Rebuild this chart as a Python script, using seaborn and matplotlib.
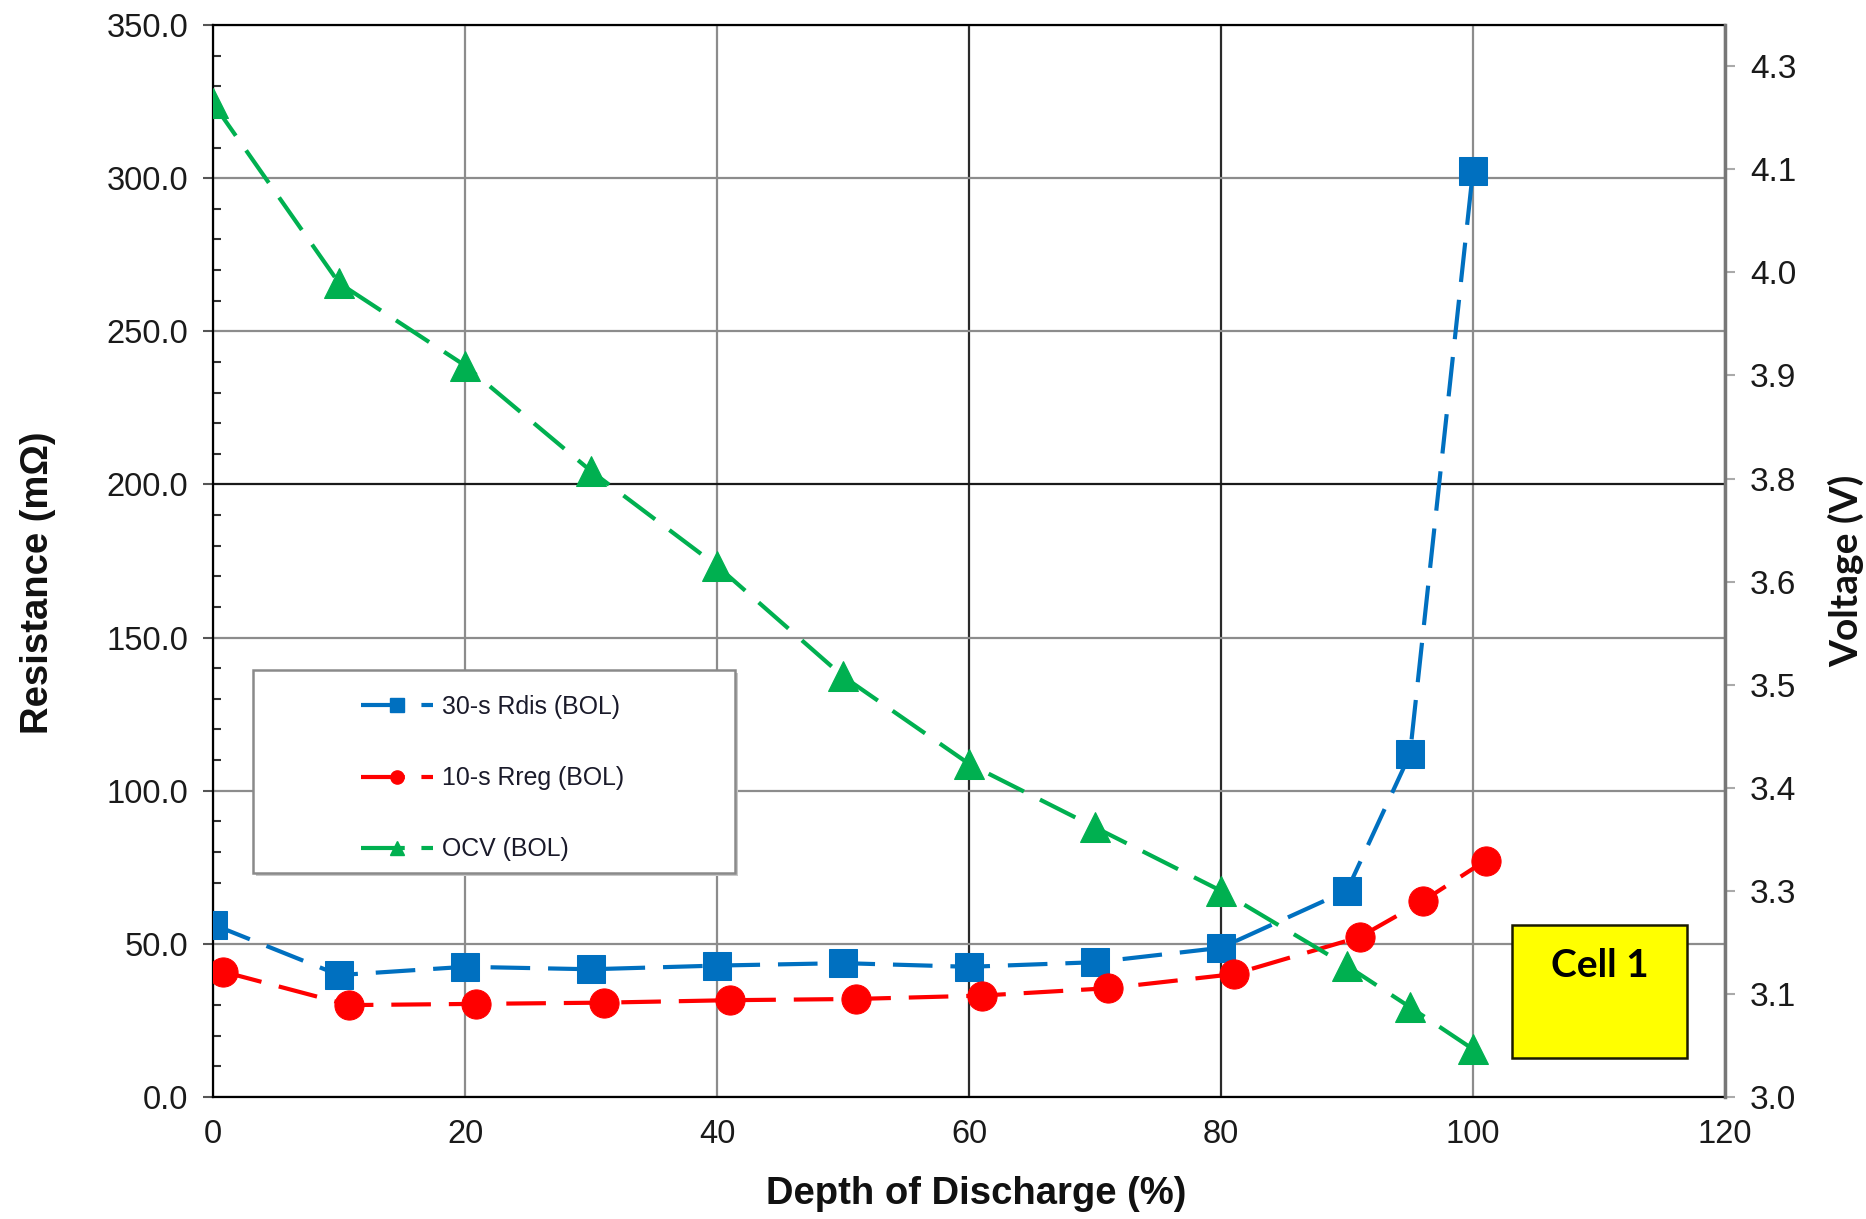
import matplotlib
matplotlib.use("Agg")
import matplotlib.pyplot as plt
import seaborn as sns
import numpy as np
from matplotlib.lines import Line2D
from matplotlib.patches import Rectangle
from matplotlib.ticker import MultipleLocator, FormatStrFormatter

# data
dod_rdis = [0, 10, 20, 30, 40, 50, 60, 70, 80, 90, 95, 100]
rdis_30s = [56.3, 39.8, 42.5, 41.7, 42.9, 43.7, 42.5, 44.0, 48.7, 67.4, 111.9, 302.4]

dod_rreg = [0.8, 10.8, 20.9, 31, 41, 51, 61, 71, 81, 91, 96, 101]
rreg_10s = [40.9, 30.0, 30.4, 30.8, 31.6, 32.0, 33.1, 35.5, 40.1, 52.2, 63.9, 77.2]

dod_ocv = [0, 10, 20, 30, 40, 50, 60, 70, 80, 90, 95, 100]
ocv = [4.205, 3.987, 3.887, 3.759, 3.644, 3.510, 3.404, 3.327, 3.250, 3.159, 3.109, 3.058]

labels = ["30-s Rdis (BOL)", "10-s Rreg (BOL)", "OCV (BOL)"]
colors = ["#0070C0", "#FF0000", "#00B050"]

volt_ticks = [3.0, 3.125, 3.25, 3.375, 3.5, 3.625, 3.75, 3.875, 4.0, 4.125, 4.25]
volt_labels = ["3.0", "3.1", "3.3", "3.4", "3.5", "3.6", "3.8", "3.9", "4.0", "4.1", "4.3"]

sns.set_style("white")
plt.rcParams["font.family"] = ["Liberation Sans", "DejaVu Sans"]

fig = plt.figure(figsize=(18.66, 12.19), dpi=100)
ax = fig.add_axes([0.1142, 0.1001, 0.8102, 0.8794])
ax2 = ax.twinx()

dash = (0, (9.5, 4.3))
lw = 3.0

sns.lineplot(x=dod_rdis, y=rdis_30s, ax=ax, color=colors[0], marker="s", markersize=20,
             markeredgecolor=colors[0], linewidth=lw, linestyle=dash, zorder=4)
sns.lineplot(x=dod_rreg, y=rreg_10s, ax=ax, color=colors[1], marker="o", markersize=21,
             markeredgecolor=colors[1], linewidth=lw, linestyle=dash, zorder=4)
sns.lineplot(x=dod_ocv, y=ocv, ax=ax2, color=colors[2], marker="^", markersize=22,
             markeredgecolor=colors[2], linewidth=lw, linestyle=dash, zorder=4)

ax.set_xlim(0, 120)
ax.set_ylim(0, 350)
ax2.set_ylim(3.0, 4.3)

ax.xaxis.set_major_locator(MultipleLocator(20))
ax.xaxis.set_minor_locator(MultipleLocator(4))
ax.yaxis.set_major_locator(MultipleLocator(50))
ax.yaxis.set_minor_locator(MultipleLocator(10))
ax.yaxis.set_major_formatter(FormatStrFormatter("%.1f"))
ax2.set_yticks(volt_ticks)
ax2.set_yticklabels(volt_labels)

tick_col = "#1a1a1a"
ax.tick_params(axis="both", which="major", direction="out", length=7, width=1.5,
               labelsize=23.5, colors="#555555", labelcolor=tick_col)
ax.tick_params(axis="x", which="major", pad=9)
ax.tick_params(axis="y", which="major", pad=11)
ax.tick_params(axis="both", which="minor", direction="in", length=6, width=1.5, colors="#333333")
ax2.tick_params(axis="y", which="major", direction="out", length=7, width=1.5,
                labelsize=24, colors="#aaaaaa", labelcolor=tick_col, pad=11)

ax.grid(True, which="major", color="#8c8c8c", linewidth=1.6, zorder=0)
ax.set_axisbelow(True)
# the reference grid has a few darker lines
for v, gl in zip(ax.get_xticks(), ax.get_xgridlines()):
    if v in (60, 80):
        gl.set_color("#2a2a2a")
for v, gl in zip(ax.get_yticks(), ax.get_ygridlines()):
    if v == 200:
        gl.set_color("#1a1a1a")

for side in ["left", "bottom", "top"]:
    ax.spines[side].set_color("black")
    ax.spines[side].set_linewidth(1.6)
ax.spines["right"].set_visible(False)
ax2.spines["right"].set_color("#777777")
ax2.spines["right"].set_linewidth(2.5)
for side in ["left", "bottom", "top"]:
    ax2.spines[side].set_visible(False)

ax.set_xlabel("Depth of Discharge (%)", fontsize=27.5, fontweight="bold", color="#111111")
ax.set_ylabel("Resistance (m\u03a9)", fontsize=27.5, fontweight="bold", color="#111111")
ax2.set_ylabel("Voltage (V)", fontsize=28, fontweight="bold", color="#111111",
               family=["Lato", "DejaVu Sans"])
ax.xaxis.set_label_coords(0.5049, -0.074)
ax.yaxis.set_label_coords(-0.1038, 0.4795)
ax2.yaxis.set_label_coords(1.068, 0.4907)

# legend box with shadow
shadow = Rectangle((0.0285, 0.2060), 0.3187, 0.1893, transform=ax2.transAxes,
                   facecolor="#c8c8c8", edgecolor="none", zorder=5)
box = Rectangle((0.0265, 0.2090), 0.3187, 0.1893, transform=ax2.transAxes,
                facecolor="white", edgecolor="#8a8a8a", linewidth=1.8, zorder=6)
ax2.add_patch(shadow)
ax2.add_patch(box)

handles = [
    Line2D([], [], color=colors[0], marker="s", markersize=9.5, linewidth=lw,
           linestyle=(0, (10.5, 4, 3, 10))),
    Line2D([], [], color=colors[1], marker="o", markersize=9.5, linewidth=lw,
           linestyle=(0, (10.5, 4, 3, 10))),
    Line2D([], [], color=colors[2], marker="^", markersize=10, linewidth=lw,
           linestyle=(0, (10.5, 4, 3, 10))),
]
leg = ax2.legend(handles, labels, loc="upper left", bbox_to_anchor=(0.0979, 0.375),
                 frameon=False, fontsize=17.9, handlelength=2.9, handletextpad=0.35,
                 labelspacing=1.9, borderpad=0, borderaxespad=0, numpoints=1)
leg.set_zorder(7)
for t in leg.get_texts():
    t.set_color("#1a1a2a")

# Cell 1 box
cell = Rectangle((0.859, 0.0364), 0.1159, 0.124, transform=ax2.transAxes,
                 facecolor="#FFFF00", edgecolor="#1a1a00", linewidth=1.8, zorder=6)
ax2.add_patch(cell)
ax2.text(0.9173, 0.1231, "Cell 1", transform=ax2.transAxes, ha="center", va="center",
         fontsize=28, fontweight="bold", family=["Lato", "DejaVu Sans"], color="black", zorder=7)

fig.savefig("out.png", dpi=100)
plt.close(fig)
